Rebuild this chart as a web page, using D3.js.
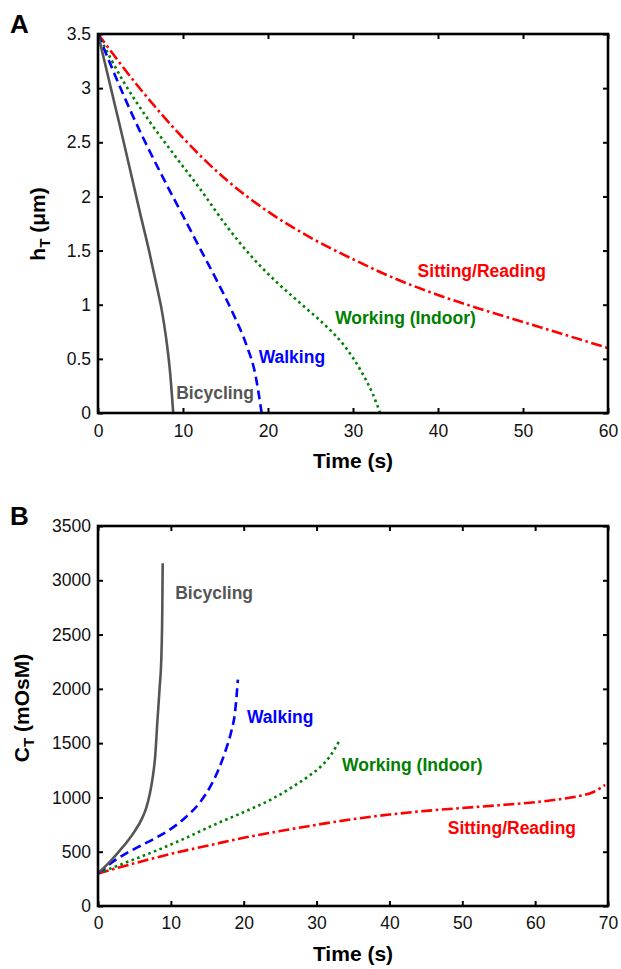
<!DOCTYPE html>
<html>
<head>
<meta charset="utf-8">
<script src="https://cdn.jsdelivr.net/npm/d3@7"></script>
<style>
body { margin: 0; background: #fff; }
svg { display: block; }
text { font-family: "Liberation Sans", Arial, Helvetica, sans-serif; }
</style>
</head>
<body>
<div id="chart"></div>
<script>
// ---- data ----
// panel A: tear film thickness h_T (um) vs time (s)
let hBicycling = [[0,3.5],[1,3.17],[2,2.84],[3,2.51],[4,2.17],[5,1.83],[6,1.5],[7,1.14],[7.5,0.95],[8,0.7],[8.5,0.36],[8.85,0]];
let hWalking = [[0,3.5],[2,3.12],[4,2.76],[6,2.43],[8,2.12],[10,1.82],[12,1.52],[14,1.22],[16,0.9],[17.5,0.62],[18.5,0.36],[19.25,0]];
let hWorking = [[0,3.5],[3,3.06],[6,2.7],[9,2.38],[12,2.07],[15,1.74],[18,1.45],[21,1.21],[24,1.0],[27,0.79],[29,0.62],[31,0.38],[32.3,0.18],[33.2,0]];
let hSitting = [[0,3.5],[5,2.99],[10,2.54],[15,2.16],[20,1.86],[25,1.62],[30,1.42],[35,1.24],[40,1.09],[45,0.96],[50,0.84],[55,0.72],[60,0.6]];

// panel B: tear film osmolarity C_T (mOsM) vs time (s)
let cBicycling = [[0,300],[1,365],[2,435],[3,512],[4,592],[5,685],[6,800],[6.6,900],[7.1,1030],[7.5,1180],[7.85,1380],[8.15,1700],[8.45,2000],[8.7,2300],[8.82,2700],[8.88,3157]];
let cWalking = [[0,300],[2,405],[4,490],[6,560],[8,630],[10,710],[12,815],[14,955],[15.5,1110],[16.5,1250],[17.5,1430],[18.3,1610],[18.8,1780],[19.2,2085]];
let cWorking = [[0,300],[4,405],[8,510],[12,625],[16,750],[20,865],[24,990],[27,1110],[29,1200],[30.5,1280],[31.8,1375],[32.6,1460],[33.2,1529]];
let cSitting = [[0,300],[5,393],[10,480],[15,555],[20,628],[25,690],[30,748],[35,800],[40,842],[45,876],[50,903],[55,928],[60,956],[63,980],[66,1012],[68,1050],[69.6,1115]];

let activities = ["Bicycling", "Walking", "Working (Indoor)", "Sitting/Reading"];
let xTicksA = [0,10,20,30,40,50,60];
let yTicksA = [0,0.5,1,1.5,2,2.5,3,3.5];
let xTicksB = [0,10,20,30,40,50,60,70];
let yTicksB = [0,500,1000,1500,2000,2500,3000,3500];

// ---- styles ----
let colors = {"Bicycling":"#555555", "Walking":"#0000ff", "Working (Indoor)":"#008000", "Sitting/Reading":"#ff0000"};
let dashes = {"Bicycling":null, "Walking":"9,5", "Working (Indoor)":"2.6,3.4", "Sitting/Reading":"11,3.5,2.6,3.5"};

let width = 621;
let height = 969;

let svg = d3.select("#chart").append("svg")
	.attr("width", width)
	.attr("height", height);

svg.append("rect")
	.attr("width", width)
	.attr("height", height)
	.attr("fill", "white");

function drawPanel(cfg){
	let g = svg.append("g");

	let xScale = d3.scaleLinear()
		.domain([0, cfg.xTicks[cfg.xTicks.length-1]])
		.range([cfg.left, cfg.right]);

	let yScale = d3.scaleLinear()
		.domain([0, cfg.yTicks[cfg.yTicks.length-1]])
		.range([cfg.bottom, cfg.top]);

	let clipId = "clip" + cfg.letter;
	g.append("clipPath").attr("id", clipId)
		.append("rect")
		.attr("x", cfg.left)
		.attr("y", cfg.top - 2)
		.attr("width", cfg.right - cfg.left)
		.attr("height", cfg.bottom - cfg.top + 2);

	let line = d3.line()
		.x(d => xScale(d[0]))
		.y(d => yScale(d[1]))
		.curve(d3.curveMonotoneX);

	// curves, sitting first so bicycling ends on top
	let order = [3,2,1,0];
	order.forEach(i => {
		let name = activities[i];
		g.append("path")
			.datum(cfg.series[i])
			.attr("clip-path", `url(#${clipId})`)
			.attr("d", line)
			.attr("fill", "none")
			.attr("stroke", colors[name])
			.attr("stroke-width", 2.6)
			.attr("stroke-dasharray", dashes[name]);
	});

	// curve labels
	cfg.labels.forEach((l, i) => {
		g.append("text")
			.attr("x", xScale(l[0]))
			.attr("y", yScale(l[1]))
			.attr("font-size", "17.5px")
			.attr("font-weight", "bold")
			.attr("fill", colors[activities[i]])
			.text(activities[i]);
	});

	// axes with inward ticks on all four sides
	let xAxis = d3.axisBottom(xScale).tickValues(cfg.xTicks).tickSizeInner(-5).tickSizeOuter(0).tickPadding(cfg.xPad);
	let yAxis = d3.axisLeft(yScale).tickValues(cfg.yTicks).tickSizeInner(-5).tickSizeOuter(0).tickPadding(7).tickFormat(cfg.yFormat);
	let xTop = d3.axisTop(xScale).tickValues(cfg.xTicks).tickSizeInner(-5).tickSizeOuter(0).tickFormat("");
	let yRight = d3.axisRight(yScale).tickValues(cfg.yTicks).tickSizeInner(-5).tickSizeOuter(0).tickFormat("");

	let axes = [
		g.append("g").attr("transform", `translate(0,${cfg.bottom})`).call(xAxis),
		g.append("g").attr("transform", `translate(${cfg.left},0)`).call(yAxis),
		g.append("g").attr("transform", `translate(0,${cfg.top})`).call(xTop),
		g.append("g").attr("transform", `translate(${cfg.right},0)`).call(yRight)
	];
	axes.forEach(a => {
		a.select(".domain").remove();
		a.selectAll("line").attr("stroke", "black").attr("stroke-width", 2);
		a.selectAll("text")
			.attr("font-size", "17.5px")
			.attr("fill", "#111")
			.style("font-family", '"Liberation Sans", Arial, sans-serif');
	});

	g.append("rect")
		.attr("x", cfg.left)
		.attr("y", cfg.top)
		.attr("width", cfg.right - cfg.left)
		.attr("height", cfg.bottom - cfg.top)
		.attr("fill", "none")
		.attr("stroke", "black")
		.attr("stroke-width", 2.6);

	// axis titles
	g.append("text")
		.attr("x", (cfg.left + cfg.right)/2)
		.attr("y", cfg.bottom + 55)
		.attr("text-anchor", "middle")
		.attr("font-size", "21px")
		.attr("font-weight", "bold")
		.text("Time (s)");

	let yl = g.append("text")
		.attr("transform", `translate(${cfg.yLabelX},${cfg.yLabelY}) rotate(-90)`)
		.attr("text-anchor", "middle")
		.attr("font-size", "21px")
		.attr("font-weight", "bold");
	yl.append("tspan").text(cfg.yName);
	yl.append("tspan").attr("font-size", "15px").attr("dy", 5).text("T");
	yl.append("tspan").attr("dy", -5).text(" " + cfg.yUnit);

	// panel letter
	g.append("text")
		.attr("x", 10)
		.attr("y", cfg.top - 1)
		.attr("font-size", "26px")
		.attr("font-weight", "bold")
		.text(cfg.letter);
}

drawPanel({
	letter: "A",
	left: 98, right: 608, top: 34, bottom: 413,
	xTicks: xTicksA, yTicks: yTicksA,
	xPad: 12,
	yFormat: d => d,
	series: [hBicycling, hWalking, hWorking, hSitting],
	labels: [[9.2,0.13],[18.9,0.46],[27.9,0.82],[37.6,1.26]],
	yName: "h", yUnit: "(\u03bcm)",
	yLabelX: 45, yLabelY: 224
});

drawPanel({
	letter: "B",
	left: 98, right: 608, top: 526, bottom: 906,
	xTicks: xTicksB, yTicks: yTicksB,
	xPad: 10.5,
	yFormat: d3.format("d"),
	series: [cBicycling, cWalking, cWorking, cSitting],
	labels: [[10.6,2828],[20.45,1686],[33.5,1243],[48,663]],
	yName: "C", yUnit: "(mOsM)",
	yLabelX: 28.5, yLabelY: 708
});
</script>
</body>
</html>
